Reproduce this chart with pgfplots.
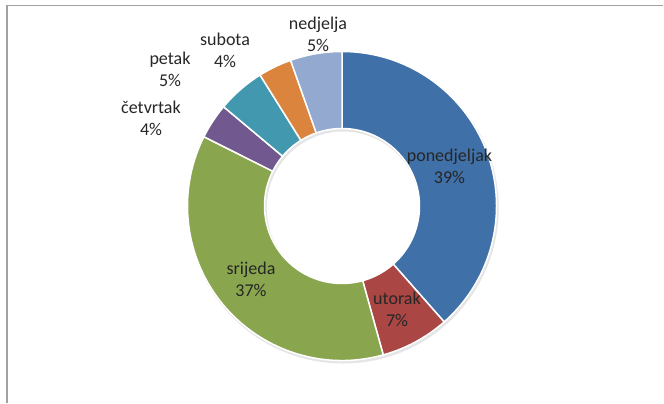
\documentclass[border=0pt]{standalone}
\usepackage{pgfplots}
\pgfplotsset{compat=1.18}
\usepackage{fontspec}
\setmainfont{Carlito}
\definecolor{c1}{HTML}{4070A8}
\definecolor{c2}{HTML}{AA4643}
\definecolor{c3}{HTML}{89A54E}
\definecolor{c4}{HTML}{71588F}
\definecolor{c5}{HTML}{4198AF}
\definecolor{c6}{HTML}{DB843D}
\definecolor{c7}{HTML}{93A9CF}
\definecolor{txt}{HTML}{262626}
\begin{document}
\begin{tikzpicture}
\begin{axis}[x=1bp,y=1bp,xmin=0,xmax=664,ymin=0,ymax=403,hide axis,clip=false]
\path (axis cs:0,0) rectangle (axis cs:664,403);
\addplot[draw=black!37, line width=1.3bp, mark=none] coordinates {(7,0) (7,397.5) (663,397.5)};
% soft shadow
\fill[black, opacity=0.10, even odd rule] (axis cs:343.2,195) circle[radius=155.5bp] (axis cs:343.2,195) circle[radius=76.5bp];
\gdef\cum{0}
\foreach \v/\c in {38.5/c1, 7.2/c2, 36.7/c3, 3.7/c4, 5.0/c5, 3.5/c6, 5.4/c7}{
 \pgfmathsetmacro\sa{90-3.6*\cum}
 \pgfmathsetmacro\se{\cum+\v}
 \pgfmathsetmacro\sb{90-3.6*\se}
 \pgfmathsetmacro\xo{342+154.5*cos(\sa)}
 \pgfmathsetmacro\yo{197+154.5*sin(\sa)}
 \pgfmathsetmacro\xi{342+77.5*cos(\sb)}
 \pgfmathsetmacro\yi{197+77.5*sin(\sb)}
 \edef\tmp{\noexpand\fill[\c, draw=white, line width=1.5bp, line join=round] (axis cs:\xo,\yo) arc[start angle=\sa, end angle=\sb, radius=154.5bp] -- (axis cs:\xi,\yi) arc[start angle=\sb, end angle=\sa, radius=77.5bp] -- cycle;}
 \tmp
 \xdef\cum{\se}
}
\begin{scope}[every node/.style={align=center, text=txt, font=\fontsize{18bp}{22bp}\selectfont, inner sep=0pt}]
\node at (axis cs:449.5,237) {ponedjeljak\\39\%};
\node at (axis cs:397,93.5) {utorak\\7\%};
\node at (axis cs:251,123.5) {srijeda\\37\%};
\node at (axis cs:151,284.5) {četvrtak\\4\%};
\node at (axis cs:170,333.5) {petak\\5\%};
\node at (axis cs:225,352.5) {subota\\4\%};
\node at (axis cs:318,368.5) {nedjelja\\5\%};
\end{scope}
\end{axis}
\end{tikzpicture}
\end{document}
